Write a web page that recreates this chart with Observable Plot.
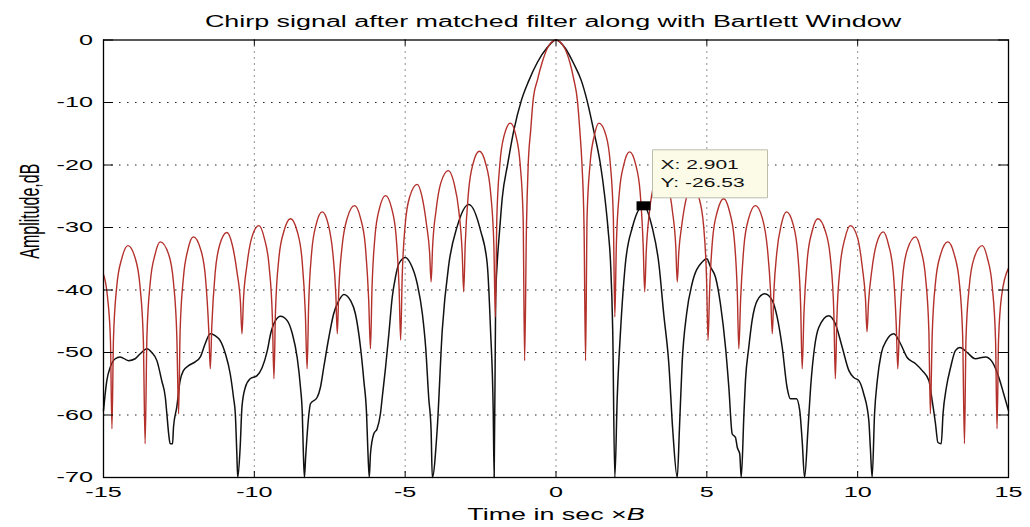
<!DOCTYPE html>
<html>
<head>
<meta charset="utf-8">
<script src="https://cdn.jsdelivr.net/npm/d3@7"></script>
<script src="https://cdn.jsdelivr.net/npm/@observablehq/plot@0.6"></script>
<style>
  html, body { margin: 0; padding: 0; background: #fff; }
  #chart { width: 1030px; height: 527px; }
</style>
</head>
<body>
<div id="chart"></div>
<script>
// ---------- text ----------
const titleText = "Chirp signal after matched filter along with Bartlett Window";
const xLabelText = "Time in sec \u00d7B";
const yLabelText = "Amplitude,dB";

// ---------- ticks / grid ----------
const xTicks = [-15, -10, -5, 0, 5, 10, 15];
const yTicks = [0, -10, -20, -30, -40, -50, -60, -70];
const xGrid = [-10, -5, 0, 5, 10];
const yGrid = [-10, -20, -30, -40, -50, -60];

// ---------- data tip ----------
const tipX = 2.901;
const tipY = -26.53;

// ---------- chirp after matched filter (red), [time x B, dB] ----------
const chirpTrace = [
  [-15,-37.5],[-14.87,-41],[-14.77,-48],[-14.72,-62.2],
  [-14.67,-47.9],[-14.56,-39.4],[-14.39,-34.9],[-14.19,-32.9],[-13.95,-34.9],[-13.79,-39.4],[-13.68,-47.9],[-13.62,-64.6],
  [-13.56,-47.3],[-13.45,-38.8],[-13.29,-34.3],[-13.12,-32.3],[-12.84,-34.3],[-12.68,-38.8],[-12.57,-47.3],[-12.51,-59.8],
  [-12.46,-46.5],[-12.35,-38],[-12.2,-33.5],[-12.02,-31.5],[-11.78,-33.5],[-11.62,-38],[-11.51,-46.5],[-11.46,-52.6],
  [-11.41,-45.8],[-11.3,-37.3],[-11.15,-32.8],[-10.91,-30.8],[-10.73,-32.8],[-10.57,-37.3],[-10.46,-42],[-10.41,-47],
  [-10.36,-41.5],[-10.25,-36.2],[-10.09,-31.7],[-9.85,-29.7],[-9.67,-31.7],[-9.51,-36.2],[-9.4,-44.7],[-9.35,-54.2],
  [-9.3,-43.6],[-9.19,-35.1],[-9.02,-30.6],[-8.8,-28.6],[-8.58,-30.6],[-8.42,-35.1],[-8.31,-43.6],[-8.25,-52.6],
  [-8.2,-42.5],[-8.1,-34],[-7.95,-29.5],[-7.75,-27.5],[-7.55,-29.5],[-7.4,-34],[-7.3,-40.5],[-7.25,-47],
  [-7.2,-40],[-7.09,-33],[-6.92,-28.5],[-6.68,-26.5],[-6.48,-28.5],[-6.32,-33],[-6.21,-41.5],[-6.15,-49.4],
  [-6.1,-39.9],[-6.0,-31.4],[-5.85,-26.9],[-5.65,-24.9],[-5.45,-26.9],[-5.3,-31.4],[-5.2,-39.9],[-5.15,-48],
  [-5.1,-38.1],[-5.0,-29.6],[-4.85,-25.1],[-4.6,-23.1],[-4.44,-25.1],[-4.29,-29.6],[-4.19,-34],[-4.14,-38.7],
  [-4.09,-33],[-3.98,-27.4],[-3.82,-22.9],[-3.57,-20.9],[-3.38,-22.9],[-3.22,-27.4],[-3.11,-34],[-3.06,-40.3],
  [-3.01,-32.8],[-2.9,-24.3],[-2.75,-19.8],[-2.54,-17.8],[-2.33,-19.8],[-2.17,-24.3],[-2.06,-32.8],[-2.01,-44.3],
  [-1.96,-28.3],[-1.86,-19.8],[-1.72,-15.3],[-1.51,-13.3],[-1.33,-15.3],[-1.19,-19.8],[-1.09,-28.3],[-1.04,-51.3],
  [-0.98,-30],[-0.92,-19.8],[-0.84,-14.5],[-0.76,-9.7],[-0.61,-6.3],[-0.46,-3.6],[-0.25,-1],[0,0],
  [0.25,-1],[0.46,-3.6],[0.59,-6.3],[0.71,-9.7],[0.79,-14.5],[0.86,-19.8],[0.93,-30],[0.98,-51.3],
  [1.03,-28.3],[1.13,-19.8],[1.27,-15.3],[1.42,-13.3],[1.66,-15.3],[1.8,-19.8],[1.9,-28.3],[1.95,-44.3],
  [2.0,-32.9],[2.1,-24.4],[2.25,-19.9],[2.44,-17.9],[2.64,-19.9],[2.79,-24.4],[2.89,-32.9],[2.94,-40.3],
  [2.99,-34],[3.1,-27.4],[3.26,-22.9],[3.5,-20.9],[3.7,-22.9],[3.86,-27.4],[3.97,-33],[4.02,-38.7],
  [4.07,-34],[4.17,-29.6],[4.33,-25.1],[4.51,-23.1],[4.73,-25.1],[4.89,-29.6],[4.99,-38.1],[5.04,-48],
  [5.09,-40.4],[5.19,-31.9],[5.35,-27.4],[5.56,-25.4],[5.75,-27.4],[5.91,-31.9],[6.01,-40.4],[6.06,-49.4],
  [6.12,-41.5],[6.23,-33],[6.39,-28.5],[6.61,-26.5],[6.84,-28.5],[7.0,-33],[7.11,-40],[7.17,-47],
  [7.22,-40.5],[7.32,-34],[7.47,-29.5],[7.64,-27.5],[7.86,-29.5],[8.01,-34],[8.11,-42.5],[8.16,-52.6],
  [8.22,-43.6],[8.33,-35.1],[8.49,-30.6],[8.68,-28.6],[8.93,-30.6],[9.1,-35.1],[9.21,-43.6],[9.26,-54.2],
  [9.31,-44.7],[9.42,-36.2],[9.58,-31.7],[9.76,-29.7],[10.0,-31.7],[10.15,-36.2],[10.26,-41.5],[10.31,-46.7],
  [10.36,-42],[10.46,-37.2],[10.62,-32.7],[10.85,-30.7],[11.02,-32.7],[11.18,-37.2],[11.28,-45.7],[11.33,-52.6],
  [11.38,-46.5],[11.49,-38],[11.65,-33.5],[11.92,-31.5],[12.09,-33.5],[12.25,-38],[12.36,-46.5],[12.41,-59.8],
  [12.47,-47.3],[12.58,-38.8],[12.75,-34.3],[12.99,-32.3],[13.2,-34.3],[13.37,-38.8],[13.48,-47.3],[13.54,-64.6],
  [13.59,-47.9],[13.7,-39.4],[13.86,-34.9],[14.13,-32.9],[14.3,-34.9],[14.46,-39.4],[14.57,-47.9],[14.62,-62.2],
  [14.67,-48],[14.77,-41],[15,-36.5]
];

// ---------- with Bartlett window (black), [time x B, dB] ----------
const bartlettTrace = [
  [-15,-59.3],[-14.89,-54.5],[-14.78,-52.4],[-14.61,-51],[-14.45,-50.7],[-14.17,-51.3],[-13.95,-51],[-13.78,-50.2],
  [-13.56,-49.4],[-13.4,-50],[-13.23,-51.3],[-13.07,-54.5],[-12.95,-57.2],[-12.9,-59.8],[-12.84,-63],[-12.79,-64.6],
  [-12.71,-64.6],[-12.68,-62],[-12.57,-58.7],[-12.46,-54.5],[-12.35,-52.9],[-12.18,-52.1],[-11.96,-51.5],[-11.79,-50.7],
  [-11.63,-48.6],[-11.46,-47],[-11.3,-47.3],[-11.13,-48.1],[-10.96,-50.2],[-10.8,-53.4],[-10.69,-57.2],[-10.63,-59.8],
  [-10.58,-66.2],[-10.55,-70],[-10.47,-65.2],[-10.41,-58.7],[-10.3,-55.6],[-10.14,-54.2],[-9.91,-53.7],[-9.74,-52.4],
  [-9.57,-49.7],[-9.46,-47],[-9.3,-44.9],[-9.13,-44.2],[-8.91,-44.9],[-8.74,-47],[-8.58,-50.8],[-8.47,-55.6],
  [-8.41,-59.8],[-8.38,-65.2],[-8.34,-70],[-8.3,-66.8],[-8.19,-59.8],[-8.14,-58.2],[-7.92,-57.2],[-7.81,-55.6],
  [-7.7,-52.4],[-7.53,-47.6],[-7.37,-43.8],[-7.2,-41.7],[-7.03,-40.7],[-6.81,-41.7],[-6.65,-43.8],[-6.48,-49.2],
  [-6.37,-54.5],[-6.28,-59.8],[-6.24,-65.2],[-6.19,-70],[-6.15,-66.2],[-6.04,-63],[-5.93,-62.2],[-5.82,-59.8],
  [-5.76,-57.2],[-5.65,-52.4],[-5.54,-47],[-5.43,-41.2],[-5.32,-37.9],[-5.21,-35.8],[-4.99,-34.8],[-4.82,-35.8],
  [-4.6,-39],[-4.43,-43.8],[-4.32,-49.2],[-4.22,-57.2],[-4.14,-62.5],[-4.1,-70],[-3.94,-62.4],[-3.77,-46.4],
  [-3.55,-35.8],[-3.28,-29.9],[-2.89,-26.3],[-2.5,-30.5],[-2.28,-35.8],[-2.17,-46.4],[-2.08,-59.7],[-2.05,-70],
  [-2.0,-41.2],[-1.95,-35.8],[-1.87,-30.5],[-1.78,-25.2],[-1.6,-19.8],[-1.4,-14.5],[-1.15,-9.7],[-0.9,-6.5],
  [-0.62,-3.6],[-0.29,-1.2],[0,0],[0.29,-1.2],[0.59,-3.8],[0.84,-6.5],[1.03,-9.7],[1.25,-14.5],
  [1.47,-19.8],[1.62,-25.2],[1.73,-30.5],[1.81,-35.8],[1.88,-46.4],[1.95,-70],[2.03,-57.2],[2.14,-46.5],
  [2.3,-35.8],[2.53,-30],[2.9,-26.5],[3.19,-30],[3.41,-35.8],[3.57,-43.8],[3.74,-51.8],[3.87,-62.4],
  [4.02,-70],[4.09,-62.4],[4.18,-51.8],[4.33,-43.8],[4.51,-39],[4.85,-35.5],[5.0,-35],[5.12,-36.3],
  [5.29,-38],[5.45,-42.2],[5.62,-49.2],[5.73,-55.6],[5.84,-63],[5.95,-63.6],[6.01,-65.2],[6.09,-66.2],
  [6.14,-70],[6.23,-59.8],[6.28,-54.5],[6.39,-49.2],[6.5,-44.9],[6.67,-41.7],[6.92,-40.6],[7.17,-41.7],
  [7.33,-44.3],[7.5,-49.2],[7.66,-55.6],[7.77,-57.4],[7.97,-57.4],[8.08,-59.3],[8.16,-64.1],[8.24,-70],
  [8.35,-62.5],[8.44,-55.6],[8.57,-49.2],[8.71,-46],[9.04,-44.1],[9.26,-45.4],[9.49,-49.2],[9.71,-52.9],
  [9.87,-54],[10.04,-54.5],[10.2,-56.6],[10.37,-60.9],[10.42,-65.2],[10.48,-70],[10.56,-59.8],[10.65,-54.5],
  [10.78,-50.2],[10.95,-48.1],[11.2,-47],[11.42,-48.6],[11.64,-50.8],[11.92,-51.8],[12.14,-52.9],[12.36,-54.5],
  [12.47,-57.7],[12.58,-61.4],[12.66,-64.4],[12.77,-64.6],[12.83,-59.8],[12.94,-55.6],[13.08,-52.4],[13.24,-49.7],
  [13.39,-49.2],[13.63,-50],[13.9,-51],[14.24,-50.7],[14.46,-51.5],[14.68,-54],[14.84,-56.6],[15,-59.3]
];

// ---------- layout ----------
const W = 1030, H = 527;
const mL = 103, mR = 22, mT = 39.5, mB = 50;
const innerW = W - mL - mR, innerH = H - mT - mB;
const font = "'Liberation Sans', Arial, Helvetica, sans-serif";

const tipBox = { draw(ctx) { ctx.rect(9, -56, 115, 48); } };
const tipMarker = { draw(ctx) { ctx.rect(-7, -4.5, 14, 9); } };

const chart = Plot.plot({
  width: W, height: H,
  marginLeft: mL, marginRight: mR, marginTop: mT, marginBottom: mB,
  x: { domain: [-15, 15] },
  y: { domain: [-70, 0] },
  style: { fontFamily: font, fontSize: "15px", background: "#fff", color: "#000", overflow: "visible" },
  marks: [
    Plot.ruleX(xGrid, { x: d => d, stroke: "#222", strokeDasharray: "1,5", strokeWidth: 1 }),
    Plot.ruleY(yGrid, { y: d => d, stroke: "#222", strokeDasharray: "1.5,6.5", strokeWidth: 1 }),
    Plot.line(bartlettTrace, { x: d => d[0], y: d => d[1], stroke: "#111", strokeWidth: 1.5, curve: "monotone-x" }),
    Plot.line(chirpTrace, { x: d => d[0], y: d => d[1], stroke: "#b3302b", strokeWidth: 1.4, curve: "monotone-x" }),
    Plot.tickX(xTicks, { x: d => d, insetTop: innerH - 6, stroke: "#000" }),
    Plot.tickX(xTicks, { x: d => d, insetBottom: innerH - 6, stroke: "#000" }),
    Plot.tickY(yTicks, { y: d => d, insetRight: innerW - 10, stroke: "#000" }),
    Plot.tickY(yTicks, { y: d => d, insetLeft: innerW - 10, stroke: "#000" }),
    Plot.frame({ stroke: "#000", strokeWidth: 1.3 }),
    Plot.axisX({ ticks: xTicks, tickSize: 0, tickPadding: 9, tickFormat: d => String(d), label: null, fontSize: 15 }),
    Plot.axisY({ ticks: yTicks, tickSize: 0, tickPadding: 10.5, tickFormat: d => String(d), label: null, fontSize: 15 }),
    Plot.dot([[tipX, tipY]], { x: d => d[0], y: d => d[1], symbol: tipBox, r: 1, fill: "#fbfbe7", stroke: "#bdbdae", strokeWidth: 1 }),
    Plot.dot([[tipX, tipY]], { x: d => d[0], y: d => d[1], symbol: tipMarker, r: 1, fill: "#000", stroke: "none" }),
    Plot.text([tipX], { x: d => d, y: () => tipY, text: d => `X: ${d}`, dx: 17, dy: -37, textAnchor: "start", lineAnchor: "bottom", fontSize: 12.5, fill: "#111" }),
    Plot.text([tipY], { x: () => tipX, y: d => d, text: d => `Y: ${d}`, dx: 17, dy: -18.6, textAnchor: "start", lineAnchor: "bottom", fontSize: 12.5, fill: "#111" }),
    Plot.text([titleText], { text: d => d, frameAnchor: "top", dx: -3, dy: -12.8, lineAnchor: "bottom", fontSize: 16 }),
    Plot.text([xLabelText], { text: d => d, frameAnchor: "bottom", dy: 42.7, lineAnchor: "bottom", fontSize: 16 }),
    Plot.text([yLabelText], { text: d => d, frameAnchor: "left", dx: -65, rotate: -90, lineAnchor: "bottom", fontSize: 16 })
  ]
});

document.getElementById("chart").append(chart);

// The reference's lettering is horizontally wide; stretch glyphs to match.
const S = 1.68;
const svgNS = "http://www.w3.org/2000/svg";
chart.querySelectorAll("text").forEach(t => {
  const s = t.textContent;
  if (s === yLabelText) {
    t.setAttribute("transform", (t.getAttribute("transform") || "") + ` scale(1,${S})`);
    return;
  }
  if (s === xLabelText) {
    t.textContent = xLabelText.slice(0, -1);
    const ts = document.createElementNS(svgNS, "tspan");
    ts.setAttribute("font-style", "italic");
    ts.textContent = xLabelText.slice(-1);
    t.append(ts);
  }
  const w = t.getComputedTextLength();
  if (w > 0) {
    t.setAttribute("textLength", (w * S).toFixed(1));
    t.setAttribute("lengthAdjust", "spacingAndGlyphs");
  }
});
</script>
</body>
</html>
